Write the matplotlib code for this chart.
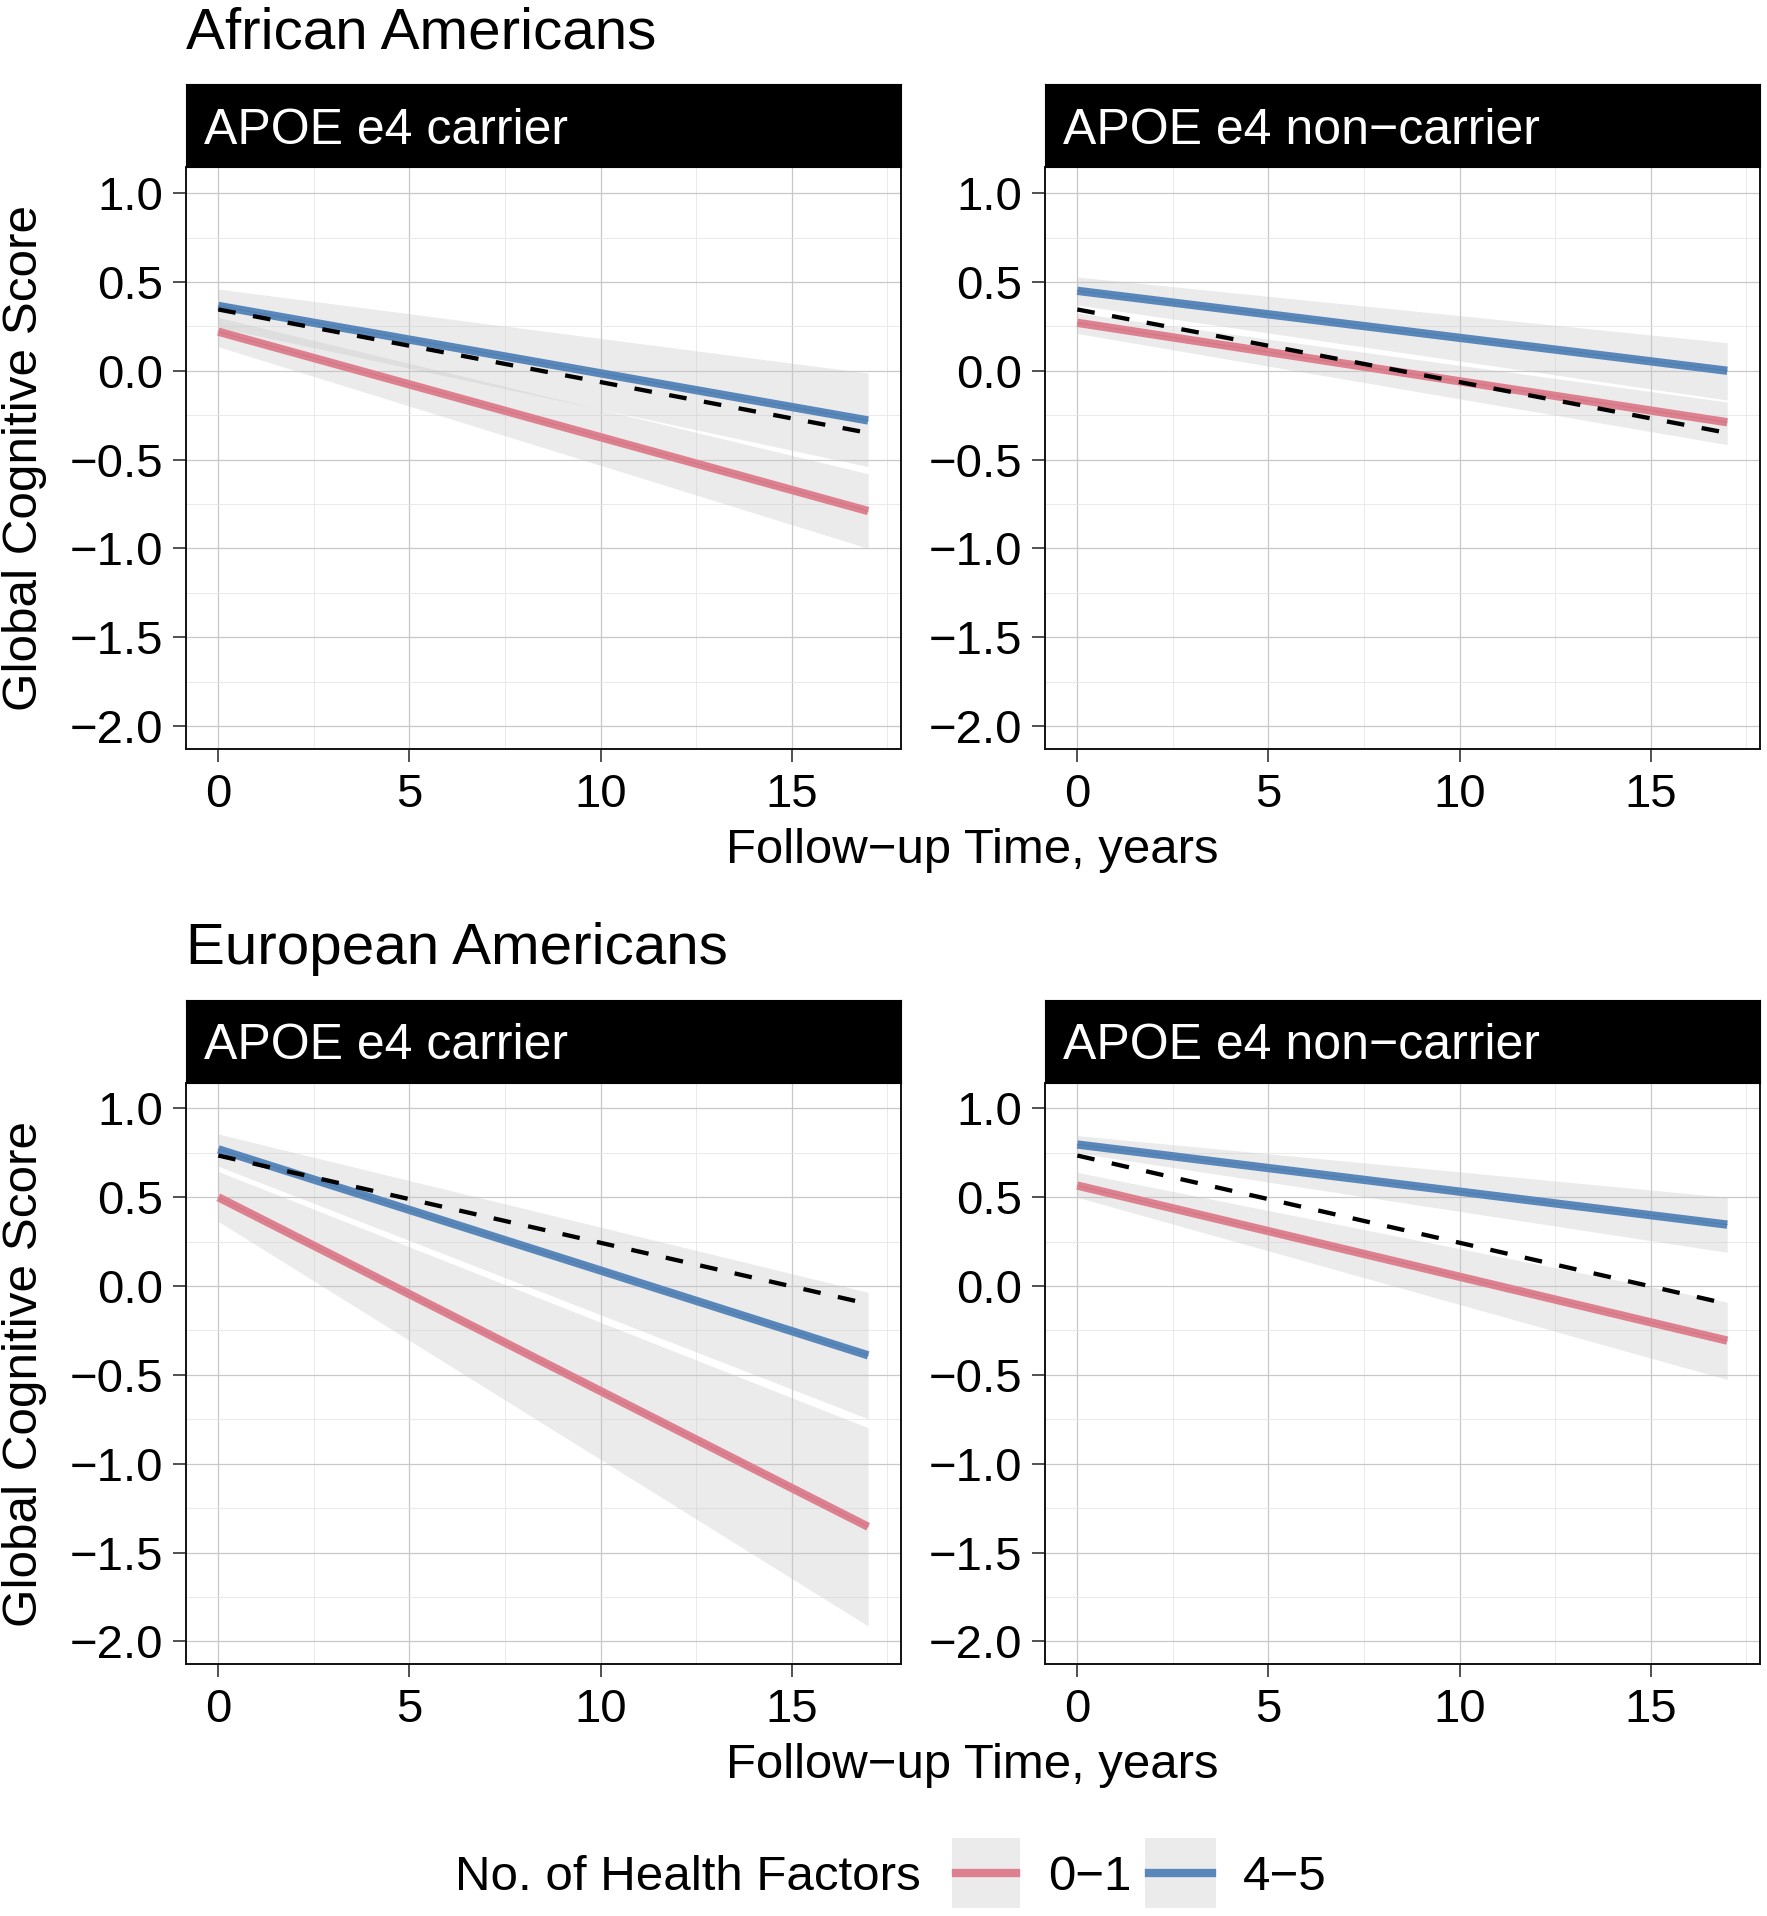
import numpy as np
import matplotlib.pyplot as plt
from matplotlib.patches import Rectangle
from matplotlib.lines import Line2D
from matplotlib.ticker import MultipleLocator, FuncFormatter

plt.rcParams['font.family'] = ['Liberation Sans', 'DejaVu Sans']

W, H = 1767, 1916

# follow-up years at which fitted values were read
years = [0, 17]
group_titles = ['African Americans', 'European Americans']
panel_titles = ['APOE e4 carrier', 'APOE e4 non\u2212carrier']
factor_labels = ['0\u22121', '4\u22125']
legend_title = 'No. of Health Factors'

# African Americans, APOE e4 carrier
aa_car_low = [0.22, -0.79]
aa_car_low_lo = [0.135, -1.00]
aa_car_low_hi = [0.30, -0.58]
aa_car_high = [0.365, -0.28]
aa_car_high_lo = [0.245, -0.54]
aa_car_high_hi = [0.46, -0.013]
# African Americans, APOE e4 non-carrier
aa_non_low = [0.27, -0.29]
aa_non_low_lo = [0.21, -0.416]
aa_non_low_hi = [0.325, -0.176]
aa_non_high = [0.45, 0.0]
aa_non_high_lo = [0.37, -0.165]
aa_non_high_hi = [0.528, 0.158]
aa_all = [0.345, -0.35]
# European Americans, APOE e4 carrier
ea_car_low = [0.50, -1.355]
ea_car_low_lo = [0.364, -1.914]
ea_car_low_hi = [0.645, -0.798]
ea_car_high = [0.77, -0.39]
ea_car_high_lo = [0.675, -0.747]
ea_car_high_hi = [0.856, -0.035]
# European Americans, APOE e4 non-carrier
ea_non_low = [0.566, -0.307]
ea_non_low_lo = [0.50, -0.526]
ea_non_low_hi = [0.64, -0.09]
ea_non_high = [0.797, 0.346]
ea_non_high_lo = [0.75, 0.19]
ea_non_high_hi = [0.847, 0.50]
ea_all = [0.735, -0.10]

panels = [
    [(aa_car_low, aa_car_low_lo, aa_car_low_hi, aa_car_high, aa_car_high_lo, aa_car_high_hi, aa_all),
     (aa_non_low, aa_non_low_lo, aa_non_low_hi, aa_non_high, aa_non_high_lo, aa_non_high_hi, aa_all)],
    [(ea_car_low, ea_car_low_lo, ea_car_low_hi, ea_car_high, ea_car_high_lo, ea_car_high_hi, ea_all),
     (ea_non_low, ea_non_low_lo, ea_non_low_hi, ea_non_high, ea_non_high_lo, ea_non_high_hi, ea_all)],
]

pink = '#DD8190'
blue = '#5A87B9'
band = '#C6C6C6'


def rect(x0, y0, x1, y1):
    return [x0 / W, 1 - y1 / H, (x1 - x0) / W, (y1 - y0) / H]


def fmt(v, pos):
    return f'{v:.1f}'.replace('-', '\u2212')


fig = plt.figure(figsize=(W / 100, H / 100), dpi=100)

col_x = [(185.8, 900.6), (1044.8, 1759.7)]
row_y = [(84.3, 167.4, 749.0), (999.6, 1082.7, 1664.4)]

for r in range(2):
    s_top, a_top, a_bot = row_y[r]
    fig.text(185.8 / W, 1 - (s_top - 36) / H, group_titles[r], fontsize=42, va='baseline', ha='left')
    for c in range(2):
        x0, x1 = col_x[c]
        ax = fig.add_axes(rect(x0, a_top, x1, a_bot))
        low, low_lo, low_hi, high, high_lo, high_hi, overall = panels[r][c]

        ax.fill_between(years, low_lo, low_hi, color=band, alpha=0.35, lw=0, zorder=2)
        ax.plot(years, low, color=pink, lw=6, solid_capstyle='butt', zorder=3)
        ax.plot(years, low, color='#C86F7E', lw=0.8, alpha=0.6, zorder=3)
        ax.fill_between(years, high_lo, high_hi, color=band, alpha=0.35, lw=0, zorder=2)
        ax.plot(years, high, color=blue, lw=6, solid_capstyle='butt', zorder=3)
        ax.plot(years, high, color='#4A77A8', lw=0.8, alpha=0.6, zorder=3)
        ax.plot(years, overall, color='black', lw=3.1, dashes=(4.1, 4.1), zorder=4)

        ax.set_xlim(-0.85, 17.85)
        ax.set_ylim(-2.13, 1.145)
        ax.xaxis.set_major_locator(MultipleLocator(5))
        ax.xaxis.set_minor_locator(MultipleLocator(2.5))
        ax.yaxis.set_major_locator(MultipleLocator(0.5))
        ax.yaxis.set_minor_locator(MultipleLocator(0.25))
        ax.yaxis.set_major_formatter(FuncFormatter(fmt))
        ax.grid(which='major', color='#C8C8C8', lw=0.9, zorder=0)
        ax.grid(which='minor', color='#E6E6E6', lw=0.6, zorder=0)
        ax.set_axisbelow(True)
        ax.tick_params(which='major', length=9.5, width=1.1, labelsize=34, color='#222222')
        ax.tick_params(axis='x', pad=7.5)
        ax.tick_params(axis='y', pad=6.5)
        ax.tick_params(which='minor', length=0)
        for sp in ax.spines.values():
            sp.set_linewidth(1.4)
            sp.set_color('#111111')

        sax = fig.add_axes(rect(x0, s_top, x1, a_top))
        sax.set_facecolor('black')
        sax.set_xticks([])
        sax.set_yticks([])
        for sp in sax.spines.values():
            sp.set_color('black')
        sax.text(18.4 / (x1 - x0), 0.5, panel_titles[c], color='white', fontsize=36,
                 va='center_baseline', ha='left', transform=sax.transAxes)

    yc = (a_top + a_bot) / 2
    fig.text(25 / W, 1 - yc / H, 'Global Cognitive Score', rotation=90, fontsize=35.6,
             va='center', ha='center')
    fig.text(972.7 / W, 1 - (a_bot + 114) / H, 'Follow\u2212up Time, years', fontsize=35.4,
             va='baseline', ha='center')

# legend
ly = 1873
fig.text(454.6 / W, 1 - ly / H, legend_title, fontsize=35.5, va='center_baseline', ha='left')
keys = [(952, 1020, pink, 1048.5), (1145, 1216, blue, 1243)]
for (kx0, kx1, col, tx), lab in zip(keys, factor_labels):
    fig.add_artist(Rectangle((kx0 / W, 1 - 1908 / H), (kx1 - kx0) / W, 70 / H,
                             transform=fig.transFigure, facecolor='#EBEBEB', edgecolor='none'))
    fig.add_artist(Line2D([(kx0 + 4) / W, (kx1 - 4) / W], [1 - ly / H, 1 - ly / H],
                          transform=fig.transFigure, color=col, lw=6))
    fig.text(tx / W, 1 - ly / H, lab, fontsize=35.5, va='center_baseline', ha='left')

fig.savefig('out.png', dpi=100)
